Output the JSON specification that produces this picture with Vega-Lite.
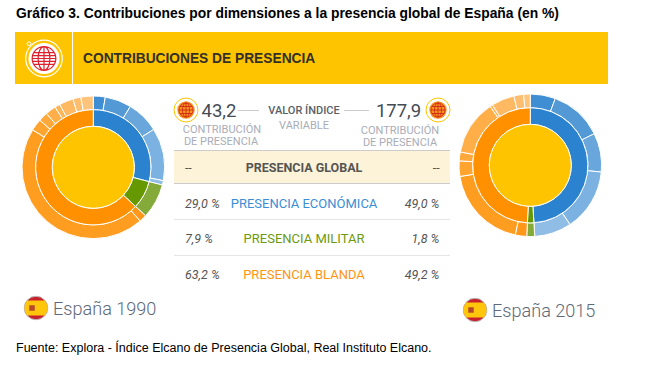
{"$schema":"https://vega.github.io/schema/vega-lite/v6.json","width":647,"height":365,"autosize":{"type":"none"},"padding":0,"background":"white","config":{"view":{"stroke":null}},
"datasets":{"one":[{"n":1}],
"rings":[
{"year":1990,"ring":"c","k":"Global","o":0,"v":100},
{"year":1990,"ring":"m","k":"Económica","o":1,"v":29},{"year":1990,"ring":"m","k":"Militar","o":2,"v":7.9},{"year":1990,"ring":"m","k":"Blanda","o":3,"v":63.1},
{"year":1990,"ring":"o","k":"Energía","o":1,"v":2.7},{"year":1990,"ring":"o","k":"Bienes primarios","o":2,"v":6.0},{"year":1990,"ring":"o","k":"Manufacturas","o":3,"v":7.4},{"year":1990,"ring":"o","k":"Servicios","o":4,"v":11.9},{"year":1990,"ring":"o","k":"Inversiones","o":5,"v":1.0},{"year":1990,"ring":"o","k":"Fuerzas militares","o":6,"v":7.9},
{"year":1990,"ring":"o","k":"Migraciones","o":7,"v":1.7},{"year":1990,"ring":"o","k":"Turismo","o":8,"v":45.2},{"year":1990,"ring":"o","k":"Deportes","o":9,"v":2.7},{"year":1990,"ring":"o","k":"Cultura","o":10,"v":2.1},{"year":1990,"ring":"o","k":"Información","o":11,"v":2.4},{"year":1990,"ring":"o","k":"Tecnología","o":12,"v":1.2},{"year":1990,"ring":"o","k":"Ciencia","o":13,"v":3.2},{"year":1990,"ring":"o","k":"Educación","o":14,"v":1.8},{"year":1990,"ring":"o","k":"Cooperación","o":15,"v":2.8},
{"year":2015,"ring":"c","k":"Global","o":0,"v":100},
{"year":2015,"ring":"m","k":"Económica","o":1,"v":49},{"year":2015,"ring":"m","k":"Militar","o":2,"v":1.8},{"year":2015,"ring":"m","k":"Blanda","o":3,"v":49.2},
{"year":2015,"ring":"o","k":"Energía","o":1,"v":5.7},{"year":2015,"ring":"o","k":"Bienes primarios","o":2,"v":12.0},{"year":2015,"ring":"o","k":"Manufacturas","o":3,"v":8.8},{"year":2015,"ring":"o","k":"Servicios","o":4,"v":14.1},{"year":2015,"ring":"o","k":"Inversiones","o":5,"v":8.4},{"year":2015,"ring":"o","k":"Fuerzas militares","o":6,"v":1.8},
{"year":2015,"ring":"o","k":"Migraciones","o":7,"v":2.6},{"year":2015,"ring":"o","k":"Turismo","o":8,"v":19.1},{"year":2015,"ring":"o","k":"Deportes","o":9,"v":3.5},{"year":2015,"ring":"o","k":"Cultura","o":10,"v":2.0},{"year":2015,"ring":"o","k":"Información","o":11,"v":12.5},{"year":2015,"ring":"o","k":"Tecnología","o":12,"v":0.6},{"year":2015,"ring":"o","k":"Ciencia","o":13,"v":5.2},{"year":2015,"ring":"o","k":"Educación","o":14,"v":2.2},{"year":2015,"ring":"o","k":"Cooperación","o":15,"v":1.5}],
"table":[{"d":"PRESENCIA GLOBAL","a":"--","b":"--"},{"d":"PRESENCIA ECONÓMICA","a":"29,0 %","b":"49,0 %"},{"d":"PRESENCIA MILITAR","a":"7,9 %","b":"1,8 %"},{"d":"PRESENCIA BLANDA","a":"63,2 %","b":"49,2 %"}]},
"data":{"name":"one"},
"layer":[
{"mark":{"type":"rect","color":"#ffc400"},"encoding":{"x":{"value":15},"x2":{"value":608},"y":{"value":32},"y2":{"value":84}}},
{"mark":{"type":"rule","color":"white","strokeWidth":1},"encoding":{"x":{"value":72.5},"y":{"value":32},"y2":{"value":84}}},
{"mark":{"type":"rect","color":"#fdf3d9"},"encoding":{"x":{"value":174},"x2":{"value":450},"y":{"value":151},"y2":{"value":183}}},
{"mark":{"type":"rule","color":"#cccccc"},"encoding":{"x":{"value":174},"x2":{"value":450},"y":{"value":150.5}}},
{"mark":{"type":"rule","color":"#cccccc"},"encoding":{"x":{"value":174},"x2":{"value":450},"y":{"value":183.5}}},
{"mark":{"type":"rule","color":"#e6e6e6"},"encoding":{"x":{"value":174},"x2":{"value":450},"y":{"value":219.5}}},
{"mark":{"type":"rule","color":"#e6e6e6"},"encoding":{"x":{"value":174},"x2":{"value":450},"y":{"value":255.5}}},
{"mark":{"type":"rule","color":"#cccccc"},"encoding":{"x":{"value":238},"x2":{"value":259},"y":{"value":110.5}}},
{"mark":{"type":"rule","color":"#cccccc"},"encoding":{"x":{"value":344},"x2":{"value":369},"y":{"value":110.5}}},

{"data":{"name":"rings"},"transform":[{"filter":"datum.year==1990 && datum.ring=='o'"}],"mark":{"type":"arc","x":93.3,"y":167.3,"radius":71.3,"radius2":57.6,"stroke":"white","strokeWidth":1},"encoding":{"theta":{"field":"v","type":"quantitative","stack":true,"scale":{"domain":[0,100],"range":[0,6.2832]}},"order":{"field":"o","type":"quantitative"},"color":{"field":"k","type":"nominal","legend":null,"scale":{"domain":["Global","Económica","Militar","Blanda","Energía","Bienes primarios","Manufacturas","Servicios","Inversiones","Fuerzas militares","Migraciones","Turismo","Deportes","Cultura","Información","Tecnología","Ciencia","Educación","Cooperación"],"range":["#ffc400","#2b83cf","#669900","#ff9000","#3f8dd2","#5299d6","#68a6dc","#7cb2e1","#8fbde5","#84ab3a","#ff981a","#ff9d20","#ffa42e","#ffa93c","#ffae48","#ffb455","#ffb962","#ffbe6f","#ffc47c"]}}}},
{"data":{"name":"rings"},"transform":[{"filter":"datum.year==1990 && datum.ring=='m'"}],"mark":{"type":"arc","x":93.3,"y":167.3,"radius":57.6,"radius2":41,"stroke":"white","strokeWidth":1},"encoding":{"theta":{"field":"v","type":"quantitative","stack":true,"scale":{"domain":[0,100],"range":[0,6.2832]}},"order":{"field":"o","type":"quantitative"},"color":{"field":"k","type":"nominal","legend":null}}},
{"data":{"name":"rings"},"transform":[{"filter":"datum.year==1990 && datum.ring=='c'"}],"mark":{"type":"arc","x":93.3,"y":167.3,"radius":41,"radius2":0,"stroke":"white","strokeWidth":1},"encoding":{"theta":{"field":"v","type":"quantitative","stack":true,"scale":{"domain":[0,100],"range":[0,6.2832]}},"order":{"field":"o","type":"quantitative"},"color":{"field":"k","type":"nominal","legend":null}}},
{"data":{"name":"rings"},"transform":[{"filter":"datum.year==2015 && datum.ring=='o'"}],"mark":{"type":"arc","x":530.3,"y":165.3,"radius":71.3,"radius2":57.6,"stroke":"white","strokeWidth":1},"encoding":{"theta":{"field":"v","type":"quantitative","stack":true,"scale":{"domain":[0,100],"range":[0,6.2832]}},"order":{"field":"o","type":"quantitative"},"color":{"field":"k","type":"nominal","legend":null}}},
{"data":{"name":"rings"},"transform":[{"filter":"datum.year==2015 && datum.ring=='m'"}],"mark":{"type":"arc","x":530.3,"y":165.3,"radius":57.6,"radius2":41,"stroke":"white","strokeWidth":1},"encoding":{"theta":{"field":"v","type":"quantitative","stack":true,"scale":{"domain":[0,100],"range":[0,6.2832]}},"order":{"field":"o","type":"quantitative"},"color":{"field":"k","type":"nominal","legend":null}}},
{"data":{"name":"rings"},"transform":[{"filter":"datum.year==2015 && datum.ring=='c'"}],"mark":{"type":"arc","x":530.3,"y":165.3,"radius":41,"radius2":0,"stroke":"white","strokeWidth":1},"encoding":{"theta":{"field":"v","type":"quantitative","stack":true,"scale":{"domain":[0,100],"range":[0,6.2832]}},"order":{"field":"o","type":"quantitative"},"color":{"field":"k","type":"nominal","legend":null}}},

{"mark":{"type":"text","text":"Gráfico 3. Contribuciones por dimensiones a la presencia global de España (en %)","x":16,"y":14,"align":"left","font":"Liberation Sans","fontWeight":"bold","fontSize":13.87,"color":"#000000"},"encoding":{}},
{"mark":{"type":"text","text":"CONTRIBUCIONES DE PRESENCIA","x":83,"y":59,"align":"left","font":"Liberation Sans","fontWeight":"bold","fontSize":13.76,"color":"#33302a"},"encoding":{}},
{"mark":{"type":"text","text":"Fuente: Explora - Índice Elcano de Presencia Global, Real Instituto Elcano.","x":16,"y":348,"align":"left","font":"Liberation Sans","fontSize":12.5,"color":"#000000"},"encoding":{}},
{"mark":{"type":"text","text":"España 1990","x":53,"y":310,"align":"left","font":"Roboto","fontWeight":300,"fontSize":18.1,"color":"#5d6878"},"encoding":{}},
{"mark":{"type":"text","text":"España 2015","x":492,"y":312,"align":"left","font":"Roboto","fontWeight":300,"fontSize":18.1,"color":"#5d6878"},"encoding":{}},
{"mark":{"type":"text","text":"43,2","x":219,"y":111,"align":"center","font":"Roboto","fontSize":18.5,"color":"#444b55"},"encoding":{}},
{"mark":{"type":"text","text":"177,9","x":398.5,"y":111,"align":"center","font":"Roboto","fontSize":18.5,"color":"#444b55"},"encoding":{}},
{"mark":{"type":"text","text":"VALOR ÍNDICE","x":304,"y":111,"align":"center","font":"Roboto","fontSize":11,"fontWeight":500,"color":"#5a5f68"},"encoding":{}},
{"mark":{"type":"text","text":"VARIABLE","x":304,"y":126,"align":"center","font":"Roboto","fontSize":11,"color":"#a9adb8"},"encoding":{}},
{"mark":{"type":"text","text":"CONTRIBUCIÓN","x":222,"y":130,"align":"center","font":"Roboto","fontSize":11,"color":"#a9adb8"},"encoding":{}},
{"mark":{"type":"text","text":"DE PRESENCIA","x":221,"y":142,"align":"center","font":"Roboto","fontSize":11,"color":"#a9adb8"},"encoding":{}},
{"mark":{"type":"text","text":"CONTRIBUCIÓN","x":400,"y":131,"align":"center","font":"Roboto","fontSize":11,"color":"#a9adb8"},"encoding":{}},
{"mark":{"type":"text","text":"DE PRESENCIA","x":400,"y":143,"align":"center","font":"Roboto","fontSize":11,"color":"#a9adb8"},"encoding":{}},

{"data":{"name":"table"},"transform":[{"filter":"datum.d!='PRESENCIA GLOBAL'"}],"mark":{"type":"text","font":"Roboto","fontSize":13,"align":"center","fontWeight":400},"encoding":{"x":{"value":304},"y":{"field":"d","type":"ordinal","axis":null,"sort":null,"scale":{"type":"point","domain":["PRESENCIA GLOBAL","PRESENCIA ECONÓMICA","PRESENCIA MILITAR","PRESENCIA BLANDA"],"range":[168,275],"padding":0}},"text":{"field":"d"},"fill":{"field":"d","type":"nominal","legend":null,"scale":{"domain":["PRESENCIA ECONÓMICA","PRESENCIA MILITAR","PRESENCIA BLANDA"],"range":["#3b8ed6","#6d9a10","#ff9412"]}}}},
{"data":{"name":"table"},"transform":[{"filter":"datum.d=='PRESENCIA GLOBAL'"}],"mark":{"type":"text","font":"Roboto","fontSize":12.5,"align":"center","fontWeight":700,"color":"#555555"},"encoding":{"x":{"value":304},"y":{"field":"d","type":"ordinal","axis":null,"sort":null},"text":{"field":"d"}}},
{"data":{"name":"table"},"mark":{"type":"text","font":"Roboto","fontSize":12.5,"align":"left","fontStyle":"italic","color":"#555555"},"encoding":{"x":{"value":185},"y":{"field":"d","type":"ordinal","axis":null,"sort":null},"text":{"field":"a"}}},
{"data":{"name":"table"},"mark":{"type":"text","font":"Roboto","fontSize":12.5,"align":"right","fontStyle":"italic","color":"#555555"},"encoding":{"x":{"value":439.5},"y":{"field":"d","type":"ordinal","axis":null,"sort":null},"text":{"field":"b"}}},

{"mark":{"type":"point","shape":"circle","x":44,"y":58.5,"size":1340,"filled":false,"color":"white","strokeWidth":1.2,"opacity":1},"encoding":{}},
{"mark":{"type":"point","shape":"circle","x":29,"y":43.7,"size":14,"filled":true,"fill":"#ffc400","stroke":"white","strokeWidth":1,"opacity":1},"encoding":{}},
{"mark":{"type":"point","shape":"circle","x":44,"y":58.5,"size":961,"filled":true,"color":"white","opacity":1},"encoding":{}},
{"mark":{"type":"point","shape":"M-1,0A1,1 0 1,1 1,0A1,1 0 1,1 -1,0M0,-1L0,1M-1,0L1,0M-0.87,-0.5L0.87,-0.5M-0.87,0.5L0.87,0.5M-0.97,-0.25L0.97,-0.25M-0.97,0.25L0.97,0.25M0,-1A0.5,1 0 0,0 0,1M0,-1A0.5,1 0 0,1 0,1","x":44,"y":58.5,"size":560,"filled":false,"color":"#e0202c","strokeWidth":1.2,"opacity":1},"encoding":{}},

{"mark":{"type":"point","shape":"circle","x":186,"y":110,"size":576,"filled":false,"color":"#ffc400","strokeWidth":1,"opacity":1},"encoding":{}},
{"mark":{"type":"point","shape":"circle","x":186,"y":110,"size":303,"filled":true,"color":"#f7971e","opacity":1},"encoding":{}},
{"mark":{"type":"point","shape":"M-1,0A1,1 0 1,1 1,0A1,1 0 1,1 -1,0M0,-1L0,1M-1,0L1,0M-0.87,-0.5L0.87,-0.5M-0.87,0.5L0.87,0.5M0,-1A0.5,1 0 0,0 0,1M0,-1A0.5,1 0 0,1 0,1","x":186,"y":110,"size":196,"filled":false,"color":"#d1261a","strokeWidth":0.9,"opacity":1},"encoding":{}},
{"mark":{"type":"point","shape":"circle","x":438,"y":110,"size":576,"filled":false,"color":"#ffc400","strokeWidth":1,"opacity":1},"encoding":{}},
{"mark":{"type":"point","shape":"circle","x":438,"y":110,"size":303,"filled":true,"color":"#f7971e","opacity":1},"encoding":{}},
{"mark":{"type":"point","shape":"M-1,0A1,1 0 1,1 1,0A1,1 0 1,1 -1,0M0,-1L0,1M-1,0L1,0M-0.87,-0.5L0.87,-0.5M-0.87,0.5L0.87,0.5M0,-1A0.5,1 0 0,0 0,1M0,-1A0.5,1 0 0,1 0,1","x":438,"y":110,"size":196,"filled":false,"color":"#d1261a","strokeWidth":0.9,"opacity":1},"encoding":{}},

{"mark":{"type":"point","shape":"circle","x":36,"y":308,"size":548,"filled":true,"color":"#c8202c","stroke":"#b9b9b9","strokeWidth":1,"opacity":1},"encoding":{}},
{"mark":{"type":"point","shape":"M-0.76,-0.65L0.76,-0.65A1,1 0 0,1 0.76,0.65L-0.76,0.65A1,1 0 0,1 -0.76,-0.65Z","x":36,"y":308,"size":530,"filled":true,"color":"#ffc60b","opacity":1},"encoding":{}},
{"mark":{"type":"point","shape":"square","x":32,"y":308,"size":30,"filled":true,"color":"#b5482a","opacity":1},"encoding":{}},
{"mark":{"type":"point","shape":"circle","x":475,"y":310,"size":548,"filled":true,"color":"#c8202c","stroke":"#b9b9b9","strokeWidth":1,"opacity":1},"encoding":{}},
{"mark":{"type":"point","shape":"M-0.76,-0.65L0.76,-0.65A1,1 0 0,1 0.76,0.65L-0.76,0.65A1,1 0 0,1 -0.76,-0.65Z","x":475,"y":310,"size":530,"filled":true,"color":"#ffc60b","opacity":1},"encoding":{}},
{"mark":{"type":"point","shape":"square","x":471,"y":310,"size":30,"filled":true,"color":"#b5482a","opacity":1},"encoding":{}}
]}
